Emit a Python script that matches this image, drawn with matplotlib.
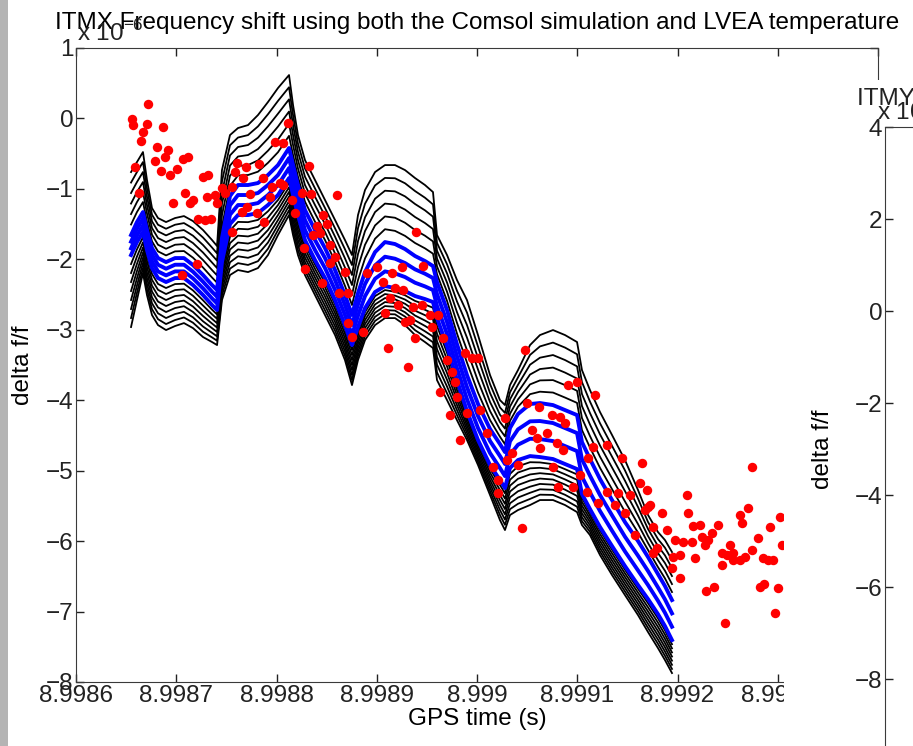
import matplotlib
matplotlib.use('Agg')
import matplotlib.pyplot as plt
from matplotlib.patches import Rectangle
import numpy as np

plt.rcParams['font.family'] = ['Liberation Sans', 'DejaVu Sans']
plt.rcParams['mathtext.fontset'] = 'custom'
plt.rcParams['mathtext.rm'] = 'Liberation Sans'

# Comsol model runs (delta f/f, x 1e-6): outer envelope of the family and
# the two outer blue runs
model_time = [8.9986549, 8.9986608, 8.9986668, 8.9986708, 8.9986758, 8.9986818, 8.9986898,
              8.9986988, 8.9987077, 8.9987167, 8.9987267, 8.9987357, 8.9987407, 8.9987456,
              8.9987536, 8.9987616, 8.9987716, 8.9987815, 8.9987915, 8.9988015, 8.9988125,
              8.9988165, 8.9988214, 8.9988284, 8.9988384, 8.9988484, 8.9988584, 8.9988683,
              8.9988753, 8.9988813, 8.9988883, 8.9988983, 8.9989082, 8.9989182, 8.9989282,
              8.9989382, 8.9989481, 8.9989561, 8.9989601, 8.9989701, 8.9989800, 8.9989900,
              8.9990010, 8.9990130, 8.9990229, 8.9990279, 8.9990329, 8.9990409, 8.9990529,
              8.9990628, 8.9990758, 8.9990878, 8.9990998, 8.9991047, 8.9991127, 8.9991227,
              8.9991347, 8.9991476, 8.9991606, 8.9991706, 8.9991805, 8.9991875, 8.9991945]
model_top = [-0.761, -0.619, -0.477, -0.874, -1.272, -1.414, -1.471, -1.414, -1.386, -1.457,
             -1.584, -1.726, -1.811, -0.733, -0.236, -0.136, -0.094, 0.048, 0.233, 0.432,
             0.616, 0.190, -0.236, -0.591, -0.874, -1.158, -1.442, -1.726, -1.939, -1.371,
             -1.016, -0.761, -0.662, -0.662, -0.733, -0.846, -0.945, -1.045, -1.655, -1.939,
             -2.294, -2.578, -3.075, -3.643, -3.998, -4.069, -3.785, -3.572, -3.217, -3.075,
             -3.004, -3.075, -3.174, -3.572, -3.856, -4.168, -4.494, -4.849, -5.275, -5.630,
             -5.871, -5.985, -6.155]
blue_top = [-1.655, -1.471, -1.329, -1.584, -1.840, -1.982, -2.039, -1.982, -1.982, -2.081,
            -2.223, -2.365, -2.436, -1.698, -1.102, -0.945, -0.945, -0.917, -0.803, -0.662,
            -0.420, -0.662, -0.945, -1.300, -1.584, -1.840, -2.152, -2.507, -2.791, -2.479,
            -2.181, -1.897, -1.755, -1.783, -1.854, -1.953, -2.024, -2.095, -2.322, -2.720,
            -3.203, -3.643, -4.054, -4.409, -4.622, -4.736, -4.395, -4.196, -4.054, -4.040,
            -4.069, -4.140, -4.211, -4.594, -4.835, -5.119, -5.417, -5.730, -5.999, -6.226,
            -6.468, -6.638, -6.837]
blue_bottom = [-1.939, -1.755, -1.613, -1.868, -2.124, -2.266, -2.322, -2.266, -2.266, -2.365,
               -2.507, -2.649, -2.720, -2.039, -1.499, -1.371, -1.371, -1.343, -1.229, -1.087,
               -0.846, -1.087, -1.371, -1.726, -2.010, -2.266, -2.578, -2.933, -3.217, -2.961,
               -2.692, -2.464, -2.379, -2.408, -2.450, -2.521, -2.564, -2.606, -2.834, -3.231,
               -3.714, -4.154, -4.565, -4.920, -5.133, -5.247, -4.963, -4.849, -4.793, -4.807,
               -4.835, -4.906, -4.977, -5.332, -5.545, -5.800, -6.070, -6.354, -6.624, -6.823,
               -7.036, -7.206, -7.405]
model_bottom = [-2.961, -2.578, -2.195, -2.507, -2.791, -2.933, -3.004, -2.947, -2.905, -2.976,
                -3.103, -3.174, -3.217, -2.578, -2.223, -2.152, -2.181, -2.124, -1.939, -1.655,
                -1.371, -1.655, -1.939, -2.223, -2.507, -2.791, -3.075, -3.430, -3.785, -3.430,
                -3.146, -2.933, -2.834, -2.834, -2.933, -3.075, -3.174, -3.259, -3.714, -3.998,
                -4.282, -4.565, -4.920, -5.346, -5.701, -5.843, -5.630, -5.559, -5.488, -5.417,
                -5.417, -5.488, -5.588, -5.772, -5.914, -6.198, -6.482, -6.766, -7.050, -7.291,
                -7.518, -7.689, -7.873]
# where each run sits: black runs above the blue group, the blue group, black runs below
upper_frac = [0.0, 0.167, 0.333, 0.5, 0.667, 0.833]
blue_frac = [0.0, 0.333, 0.667, 1.0]
lower_frac = [0.125, 0.25, 0.375, 0.5, 0.625, 0.75, 0.875, 1.0]

# measured frequency shift (x 1e-6)
lvea_time = [8.9986718, 8.9986559, 8.9986569, 8.9986708, 8.9986668, 8.9986868, 8.9986648,
             8.9986808, 8.9986918, 8.9986888, 8.9986788, 8.9987067, 8.9987117, 8.9986589,
             8.9986848, 8.9986938, 8.9987008, 8.9987267, 8.9987317, 8.9986628, 8.9987087,
             8.9986968, 8.9987137, 8.9987167, 8.9987307, 8.9987387, 8.9987407, 8.9987456,
             8.9987486, 8.9987606, 8.9987696, 8.9987825, 8.9987586, 8.9987666, 8.9987556,
             8.9987736, 8.9987955, 8.9987865, 8.9988035, 8.9987220, 8.9987287, 8.9987347,
             8.9987656, 8.9987806, 8.9987706, 8.9987875, 8.9987935, 8.9987556, 8.9987057,
             8.9987207, 8.9988115, 8.9987990, 8.9988065, 8.9988324, 8.9988254, 8.9988344,
             8.9988604, 8.9988065, 8.9988155, 8.9988185, 8.9988464, 8.9988404, 8.9988504,
             8.9988434, 8.9988364, 8.9988274, 8.9988534, 8.9988584, 8.9988284, 8.9988454,
             8.9988534, 8.9988683, 8.9988623, 8.9988713, 8.9988713, 8.9988753, 8.9988863,
             8.9988903, 8.9989002, 8.9989062, 8.9989152, 8.9989182, 8.9989252, 8.9989392,
             8.9989132, 8.9989212, 8.9989262, 8.9989362, 8.9989082, 8.9989332, 8.9989282,
             8.9989382, 8.9989112, 8.9989312, 8.9989461, 8.9989451, 8.9989531, 8.9989610,
             8.9989551, 8.9989661, 8.9989701, 8.9989880, 8.9989950, 8.9990010, 8.9989751,
             8.9989781, 8.9989800, 8.9989631, 8.9989731, 8.9989900, 8.9990030, 8.9989830,
             8.9990100, 8.9990279, 8.9990479, 8.9990499, 8.9990618, 8.9990549, 8.9990599,
             8.9990748, 8.9990828, 8.9990878, 8.9990908, 8.9990998, 8.9991177, 8.9990698,
             8.9990798, 8.9990858, 8.9990628, 8.9990349, 8.9990299, 8.9990409, 8.9990758,
             8.9990160, 8.9990210, 8.9990210, 8.9990808, 8.9990958, 8.9991027, 8.9991107,
             8.9991157, 8.9991297, 8.9991446, 8.9991646, 8.9991626, 8.9991696, 8.9991297,
             8.9991407, 8.9991526, 8.9991726, 8.9991676, 8.9991845, 8.9992095, 8.9992105,
             8.9992155, 8.9992224, 8.9992404, 8.9991895, 8.9991756, 8.9991975, 8.9992055,
             8.9992145, 8.9991796, 8.9991756, 8.9991576, 8.9991476, 8.9991377, 8.9991207,
             8.9991097, 8.9990449, 8.9991706, 8.9992244, 8.9992304, 8.9992344, 8.9992274,
             8.9991955, 8.9992025, 8.9992175, 8.9992444, 8.9992494, 8.9992554, 8.9992524,
             8.9992623, 8.9992673, 8.9992743, 8.9992554, 8.9992803, 8.9992623, 8.9992643,
             8.9992703, 8.9992743, 8.9992923, 8.9993022, 8.9993042, 8.9992853, 8.9992903,
             8.9992953, 8.9991945, 8.9992025, 8.9992444, 8.9992284, 8.9992364, 8.9992823,
             8.9992863, 8.9993003, 8.9992474, 8.9992973]
lvea_shift = [0.204, -0.010, -0.094, -0.080, -0.193, -0.122, -0.321, -0.406, -0.449, -0.548,
              -0.605, -0.576, -0.548, -0.690, -0.747, -0.804, -0.718, -0.832, -0.804, -1.059,
              -1.059, -1.201, -1.201, -1.158, -1.116, -1.087, -1.201, -0.988, -1.059, -0.633,
              -0.690, -0.647, -0.761, -0.846, -0.974, -1.073, -0.974, -0.846, -0.917, -1.428,
              -1.442, -1.428, -1.329, -1.343, -1.258, -1.471, -1.116, -1.613, -2.223, -2.067,
              -0.065, -0.335, -0.349, -0.676, -1.059, -1.073, -1.087, -0.946, -1.158, -1.343,
              -1.372, -1.528, -1.499, -1.627, -1.655, -1.840, -1.797, -1.968, -2.138, -2.337,
              -2.053, -2.181, -2.479, -2.479, -2.905, -3.103, -3.032, -2.195, -2.110, -2.323,
              -2.195, -2.408, -2.110, -1.613, -2.550, -2.649, -2.436, -2.677, -2.763, -2.862,
              -2.890, -3.118, -3.260, -3.529, -2.095, -2.649, -2.791, -2.791, -2.961, -3.118,
              -3.430, -3.331, -3.401, -3.401, -3.600, -3.742, -3.955, -3.884, -4.211, -4.182,
              -4.140, -4.566, -4.466, -4.253, -3.288, -4.040, -4.097, -4.424, -4.537, -4.211,
              -4.239, -4.324, -3.785, -3.742, -3.927, -4.466, -4.608, -4.708, -4.679, -4.750,
              -4.850, -4.921, -4.949, -4.949, -5.134, -5.318, -5.233, -5.233, -5.063, -4.821,
              -4.665, -4.637, -4.821, -4.892, -5.176, -5.275, -5.304, -5.318, -5.346, -5.488,
              -5.559, -5.602, -5.346, -5.602, -5.786, -5.772, -5.772, -5.843, -5.800, -5.985,
              -6.013, -6.013, -6.099, -6.170, -5.914, -5.602, -5.488, -5.460, -5.304, -5.815,
              -5.517, -5.943, -5.985, -5.886, -6.056, -6.227, -6.198, -6.241, -6.170, -6.198,
              -6.170, -6.056, -6.269, -6.227, -6.127, -6.269, -5.957, -5.630, -5.744, -5.531,
              -4.949, -5.800, -5.659, -6.056, -6.241, -6.269, -6.269, -6.383, -6.525, -6.340,
              -6.709, -6.652, -6.652, -6.610, -6.667, -7.163, -7.021]

x_ticks = [8.9986, 8.9987, 8.9988, 8.9989, 8.9990, 8.9991, 8.9992, 8.9993, 8.9994]
x_labels = ['8.9986', '8.9987', '8.9988', '8.9989', '8.999', '8.9991', '8.9992', '8.9993', '8.9994']
y_ticks = [1, 0, -1, -2, -3, -4, -5, -6, -7, -8]
y2_ticks = [4, 2, 0, -2, -4, -6, -8]

title = 'ITMX Frequency shift using both the Comsol simulation and LVEA temperature'
title2 = 'ITMY Frequency shift using both the Comsol simulation and LVEA temperature'

W, H = 913, 746
fs = 17.5
axcol = '#3a3a3a'
fig = plt.figure(figsize=(W / 100, H / 100), dpi=100)

ax = fig.add_axes([76 / W, 1 - 682 / H, 802 / W, 634 / H], zorder=0)
top = np.array(model_top)
btop = np.array(blue_top)
bbot = np.array(blue_bottom)
bot = np.array(model_bottom)
for f in upper_frac:
    ax.plot(model_time, top + (btop - top) * f, color='black', lw=1.3)
for f in lower_frac:
    ax.plot(model_time, bbot + (bot - bbot) * f, color='black', lw=1.3)
for f in blue_frac:
    ax.plot(model_time, btop + (bbot - btop) * f, color='#0000ff', lw=2.8)
ax.plot(lvea_time, lvea_shift, 'o', color='#ff0000', ms=6.8, mec='none')

ax.set_xlim(8.9986, 8.9994)
ax.set_ylim(-8, 1)
ax.set_xticks(x_ticks)
ax.set_xticklabels(x_labels)
ax.set_yticks(y_ticks)
ax.tick_params(direction='in', length=6, width=1, top=True, right=True,
               labelsize=fs, colors='#222222', pad=2)
for s in ax.spines.values():
    s.set_color(axcol)
ax.set_xlabel('GPS time (s)', fontsize=fs, labelpad=1)
ax.set_ylabel('delta f/f', fontsize=fs, labelpad=8)
ax.set_title(title, fontsize=fs, pad=14)
fig.text(77 / W, 1 - 41 / H, r'x 10$^{-6}$', fontsize=fs, color='#222222', va='baseline')

# white area of the neighbouring subplot hiding the right end of this one
fig.patches.append(Rectangle((784 / W, 0), 1, 1 - 80 / H, transform=fig.transFigure,
                             facecolor='white', edgecolor='none', zorder=1))

ax2 = fig.add_axes([885 / W, 1 - 771 / H, 0.6, 644 / H], zorder=2)
ax2.set_ylim(-10, 4)
ax2.set_xlim(0, 1)
ax2.set_yticks(y2_ticks)
ax2.set_xticks([])
ax2.tick_params(direction='in', length=6, width=1, labelsize=fs, colors='#222222', pad=2)
for s in ax2.spines.values():
    s.set_color(axcol)
ax2.set_ylabel('delta f/f', fontsize=fs, labelpad=15)
fig.text(857 / W, 1 - 105 / H, title2, fontsize=fs, color='#222222', va='baseline')
fig.text(877 / W, 1 - 120 / H, r'x 10$^{-6}$', fontsize=fs, color='#222222', va='baseline')

# grey window border on the left
fig.patches.append(Rectangle((0, 0), 8 / W, 1, transform=fig.transFigure,
                             facecolor='#b4b4b4', edgecolor='none', zorder=5))

fig.savefig('out.png', dpi=100)
